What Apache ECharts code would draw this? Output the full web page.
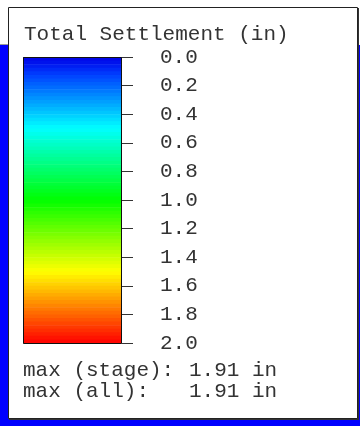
<!DOCTYPE html>
<html>
<head>
<meta charset="utf-8">
<script src="https://cdn.jsdelivr.net/npm/echarts@6/dist/echarts.min.js"></script>
<style>
html,body{margin:0;padding:0;background:#fff;}
#chart{width:360px;height:426px;}
</style>
</head>
<body>
<div id="chart"></div>
<script>
// ---- data ----
const titleText = 'Total Settlement (in)';
const scaleMin = 0.0;
const scaleMax = 2.0;
const tickStep = 0.2;
const tickLabels = ['0.0','0.2','0.4','0.6','0.8','1.0','1.2','1.4','1.6','1.8','2.0'];
const bandCount = 80;
const maxLabels = ['max (stage):', 'max (all):'];
const maxValues = [1.91, 1.91];
const unit = 'in';

// ---- colour scale (HSV rainbow: blue -> red) ----
function hsvToRgb(h, s, v) {
  const c = v * s, x = c * (1 - Math.abs((h / 60) % 2 - 1)), m = v - c;
  let r = 0, g = 0, b = 0;
  if (h < 60) { r = c; g = x; }
  else if (h < 120) { r = x; g = c; }
  else if (h < 180) { g = c; b = x; }
  else if (h < 240) { g = x; b = c; }
  else { r = x; b = c; }
  return 'rgb(' + Math.round((r + m) * 255) + ',' + Math.round((g + m) * 255) + ',' + Math.round((b + m) * 255) + ')';
}
function colorFor(t) { // t in 0..1
  return hsvToRgb(240 * (1 - t), 1, t < 0.06 ? 0.9 + t * 1.6 : 1);
}

const bands = [];
const bandStep = (scaleMax - scaleMin) / bandCount;
for (let i = 0; i < bandCount; i++) {
  bands.push([0, scaleMin + i * bandStep, scaleMin + (i + 1) * bandStep]);
}

const FONT = "'Liberation Mono', 'DejaVu Sans Mono', monospace";
const FS = 21;
const TXT = '#333333';

const chart = echarts.init(document.getElementById('chart'), null, {renderer: 'canvas'});
const txt = (s, x, y) => ({ type: 'text', z: 10, x: x, y: y, style: {text: s, font: FS + 'px ' + FONT, fill: TXT, verticalAlign: 'middle', textAlign: 'left'} });
const option = {
  animation: false,
  backgroundColor: '#ffffff',
  graphic: {
    elements: [
      { type: 'rect', z: -30, shape: {x: 0, y: 45, width: 360, height: 381}, style: {fill: '#0000ff'} },
      { type: 'line', z: -29, shape: {x1: 0, y1: 44.5, x2: 8, y2: 44.5}, style: {stroke: '#9a9a9a', lineWidth: 1} },
      { type: 'rect', z: -28, shape: {x: 9, y: 8, width: 350, height: 412}, style: {fill: '#333333'} },
      { type: 'rect', z: -27, shape: {x: 8.5, y: 7.5, width: 349, height: 411}, style: {fill: '#ffffff', stroke: '#222222', lineWidth: 1} },
      txt(titleText, 24, 34),
      txt(maxLabels[0], 23, 370),
      txt(maxValues[0].toFixed(2) + ' ' + unit, 189, 370),
      txt(maxLabels[1], 23, 391),
      txt(maxValues[1].toFixed(2) + ' ' + unit, 189, 391)
    ]
  },
  grid: {left: 23, top: 57, width: 99, height: 286, show: false},
  xAxis: {type: 'category', data: [''], show: false, boundaryGap: true},
  yAxis: {
    type: 'value', min: scaleMin, max: scaleMax, interval: tickStep, inverse: true, position: 'right',
    axisLine: {show: false},
    axisTick: {show: true, length: 11, lineStyle: {color: '#333', width: 1}},
    splitLine: {show: false},
    axisLabel: {
      margin: 38, color: TXT, fontFamily: FONT, fontSize: FS,
      formatter: function (v) {
        const i = Math.round((v - scaleMin) / tickStep);
        return tickLabels[i] !== undefined ? tickLabels[i] : '';
      }
    }
  },
  series: [
    {
      type: 'custom',
      data: bands,
      z: 2,
      renderItem: function (params, api) {
        const a = api.coord([0, api.value(1)]);
        const b = api.coord([0, api.value(2)]);
        const w = api.size([1, 0])[0];
        const mid = (api.value(1) + api.value(2)) / 2;
        const t = (mid - scaleMin) / (scaleMax - scaleMin);
        return {
          type: 'rect',
          shape: {x: a[0] - w / 2, y: Math.min(a[1], b[1]), width: w, height: Math.abs(b[1] - a[1]) + 0.6},
          style: {fill: colorFor(t)}
        };
      }
    },
    {
      type: 'custom',
      data: [[0, scaleMin, scaleMax]],
      z: 3,
      renderItem: function (params, api) {
        const a = api.coord([0, api.value(1)]);
        const b = api.coord([0, api.value(2)]);
        const w = api.size([1, 0])[0];
        return {
          type: 'rect',
          shape: {x: Math.round(a[0] - w / 2) + 0.5, y: Math.round(a[1]) + 0.5, width: Math.round(w) - 1, height: Math.round(b[1] - a[1])},
          style: {fill: null, stroke: '#111', lineWidth: 1}
        };
      }
    }
  ]
};
chart.setOption(option);
</script>
</body>
</html>
